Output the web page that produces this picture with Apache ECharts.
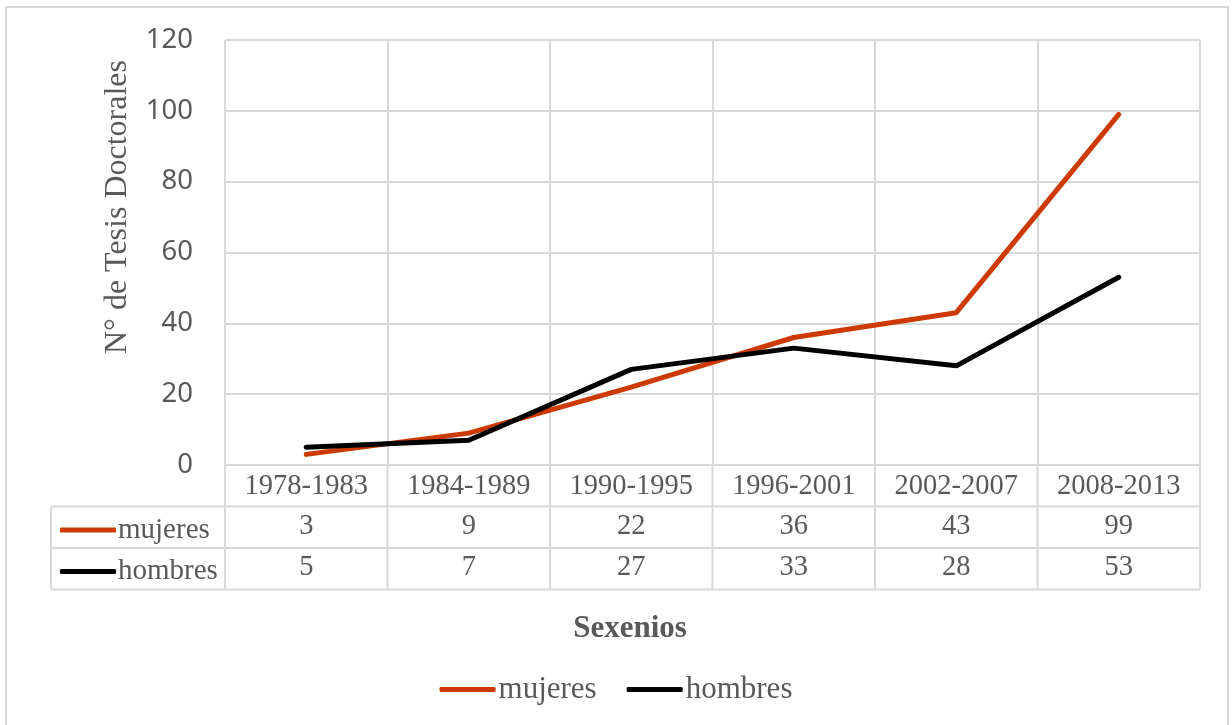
<!DOCTYPE html>
<html>
<head>
<meta charset="utf-8">
<script src="https://cdn.jsdelivr.net/npm/echarts@6/dist/echarts.min.js"></script>
<style>
  html, body { margin: 0; padding: 0; background: #fff; }
  #chart { width: 1232px; height: 725px; }
</style>
</head>
<body>
<div id="chart"></div>
<script>
const sexenios = ['1978-1983', '1984-1989', '1990-1995', '1996-2001', '2002-2007', '2008-2013'];
const mujeres = [3, 9, 22, 36, 43, 99];
const hombres = [5, 7, 27, 33, 28, 53];

// layout (px)
const plotLeft = 225, plotRight = 1200, plotTop = 40, plotBottom = 465;
const rowH = 41.5, tableLeft = 51;
const gridColor = '#d9d9d9';
const textColor = '#595959';
const serif = 'Liberation Serif';

// rulings of the data table under the plot
const rules = [];
const colW = (plotRight - plotLeft) / sexenios.length;
for (let i = 0; i <= sexenios.length; i++) {
  const x = plotLeft + i * colW;
  rules.push({ type: 'line', shape: { x1: x, y1: plotBottom, x2: x, y2: plotBottom + 3 * rowH }, style: { stroke: gridColor, lineWidth: 2 } });
}
for (let r = 1; r <= 3; r++) {
  const y = plotBottom + r * rowH;
  rules.push({ type: 'line', shape: { x1: tableLeft, y1: y, x2: plotRight, y2: y }, style: { stroke: gridColor, lineWidth: 2 } });
}
rules.push({ type: 'line', shape: { x1: tableLeft, y1: plotBottom + rowH, x2: tableLeft, y2: plotBottom + 3 * rowH }, style: { stroke: gridColor, lineWidth: 2 } });

const tableAxis = (values, gap) => ({
  type: 'category',
  data: values.map(String),
  position: 'bottom',
  gridIndex: 0,
  axisLine: { show: false },
  axisTick: { show: false },
  splitLine: { show: false },
  axisLabel: { margin: gap, verticalAlign: 'middle', color: textColor, fontFamily: serif, fontSize: 28.5, interval: 0 }
});

const chart = echarts.init(document.getElementById('chart'));
chart.setOption({
  animation: false,
  textStyle: { fontFamily: serif },
  title: {
    text: 'Sexenios',
    left: 625, top: 608,
    textAlign: 'center',
    textStyle: { fontFamily: serif, fontWeight: 'bold', fontSize: 31, color: textColor }
  },
  grid: { left: plotLeft, right: 1232 - plotRight, top: plotTop, bottom: 725 - plotBottom, containLabel: false },
  legend: [
    {
      data: ['mujeres'], left: 55, top: plotBottom + rowH + 4,
      icon: 'roundRect', itemWidth: 56, itemHeight: 5,
      textStyle: { fontFamily: serif, fontSize: 29, color: textColor, padding: [0, 0, 0, -3] }
    },
    {
      data: ['hombres'], left: 55, top: plotBottom + 2 * rowH + 4,
      icon: 'roundRect', itemWidth: 56, itemHeight: 5,
      textStyle: { fontFamily: serif, fontSize: 29, color: textColor, padding: [0, 0, 0, -3] }
    },
    {
      data: ['mujeres', 'hombres'], left: 'center', top: 669, itemGap: 30,
      icon: 'roundRect', itemWidth: 56, itemHeight: 5,
      textStyle: { fontFamily: serif, fontSize: 31, color: textColor, padding: [0, 0, 0, -2] }
    }
  ],
  xAxis: [
    {
      type: 'category',
      data: sexenios,
      boundaryGap: true,
      axisLine: { lineStyle: { color: gridColor, width: 2 } },
      axisTick: { show: false },
      splitLine: { show: true, lineStyle: { color: gridColor, width: 2 } },
      axisLabel: { margin: 22, verticalAlign: 'middle', color: textColor, fontFamily: serif, fontSize: 28.5, interval: 0 }
    },
    tableAxis(mujeres, 62),
    tableAxis(hombres, 103)
  ],
  yAxis: {
    type: 'value',
    min: 0, max: 120, interval: 20,
    axisLine: { show: false },
    axisTick: { show: false },
    splitLine: { lineStyle: { color: gridColor, width: 2 } },
    axisLabel: { margin: 32, color: textColor, fontFamily: 'Noto Sans', fontSize: 27.5 }
  },
  graphic: [
    { type: 'rect', shape: { x: 6, y: 7, width: 1222, height: 730 }, style: { fill: 'none', stroke: gridColor, lineWidth: 2 }, silent: true },
    {
      type: 'text', x: 118, y: 207, rotation: Math.PI / 2,
      style: { text: 'N° de Tesis Doctorales', fill: textColor, font: '32px "Liberation Serif"', align: 'center', verticalAlign: 'middle' }
    }
  ].concat(rules),
  series: [
    {
      name: 'mujeres', type: 'line', data: mujeres, symbol: 'none',
      lineStyle: { color: '#cc3a00', width: 5, cap: 'round' }, itemStyle: { color: '#cc3a00' }
    },
    {
      name: 'hombres', type: 'line', data: hombres, symbol: 'none',
      lineStyle: { color: '#000', width: 5, cap: 'round' }, itemStyle: { color: '#000' }
    }
  ]
});
</script>
</body>
</html>
